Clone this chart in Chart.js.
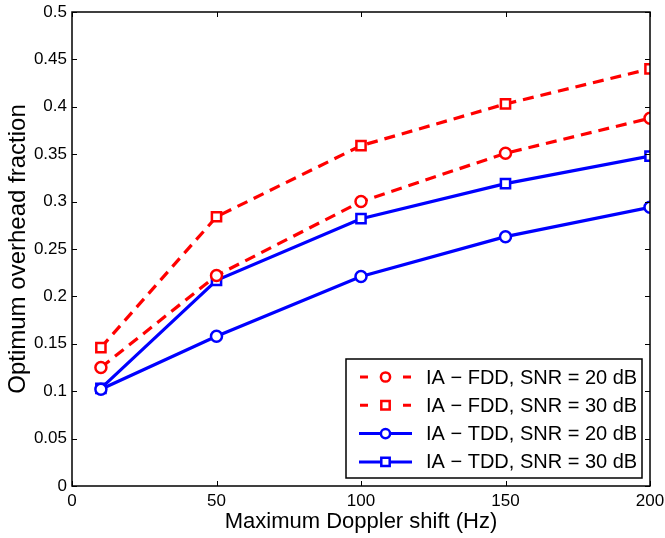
<!DOCTYPE html>
<html>
<head>
<meta charset="utf-8">
<script src="https://cdn.jsdelivr.net/npm/chart.js@4"></script>
<style>
  html, body { margin: 0; padding: 0; background: #fff; }
  #wrap { width: 665px; height: 538px; }
</style>
</head>
<body>
<div id="wrap"><canvas id="chart" width="665" height="538"></canvas></div>
<script>
// ---- data ----
const dopplerHz = [10, 50, 100, 150, 200];
const fdd20 = [0.125, 0.222, 0.300, 0.351, 0.388];
const fdd30 = [0.146, 0.284, 0.359, 0.403, 0.440];
const tdd20 = [0.102, 0.158, 0.221, 0.263, 0.294];
const tdd30 = [0.103, 0.217, 0.282, 0.319, 0.348];
const seriesLabels = [
  'IA \u2212 FDD, SNR = 20 dB',
  'IA \u2212 FDD, SNR = 30 dB',
  'IA \u2212 TDD, SNR = 20 dB',
  'IA \u2212 TDD, SNR = 30 dB'
];
const xTicks = [0, 50, 100, 150, 200];
const yTicks = [0, 0.05, 0.1, 0.15, 0.2, 0.25, 0.3, 0.35, 0.4, 0.45, 0.5];
const yTickLabels = ['0', '0.05', '0.1', '0.15', '0.2', '0.25', '0.3', '0.35', '0.4', '0.45', '0.5'];

const RED = '#ff0000';
const BLUE = '#0000ff';
const FONT = 'Arial, "Liberation Sans", Helvetica, sans-serif';

function makeSet(label, values, color, dashed, marker) {
  return {
    label: label,
    data: dopplerHz.map((x, i) => ({ x: x, y: values[i] })),
    borderColor: color,
    backgroundColor: '#ffffff',
    borderWidth: 3.2,
    borderDash: dashed ? [11, 7] : [],
    pointStyle: marker,
    pointRadius: marker === 'rect' ? 6.5 : 5.5,
    pointBorderWidth: 2.5,
    pointBorderColor: color,
    pointBackgroundColor: '#ffffff',
    tension: 0
  };
}

// MATLAB-style box with inward ticks on all four sides
const boxPlugin = {
  id: 'boxPlugin',
  afterDatasetsDraw(chart) {
    const { ctx, chartArea: a, scales: { x, y } } = chart;
    ctx.save();
    ctx.strokeStyle = '#000';
    ctx.lineWidth = 1;
    const len = 5;
    ctx.beginPath();
    xTicks.forEach(v => {
      const px = Math.round(x.getPixelForValue(v)) + 0.5;
      ctx.moveTo(px, a.bottom); ctx.lineTo(px, a.bottom - len);
      ctx.moveTo(px, a.top); ctx.lineTo(px, a.top + len);
    });
    yTicks.forEach(v => {
      const py = Math.round(y.getPixelForValue(v)) + 0.5;
      ctx.moveTo(a.left, py); ctx.lineTo(a.left + len, py);
      ctx.moveTo(a.right, py); ctx.lineTo(a.right - len, py);
    });
    ctx.stroke();
    ctx.lineWidth = 1.5;
    ctx.strokeRect(a.left, a.top, a.right - a.left, a.bottom - a.top);
    ctx.restore();
  }
};

// legend box drawn inside the plot, lower right
const legendPlugin = {
  id: 'legendPlugin',
  afterDraw(chart) {
    const { ctx } = chart;
    const box = { x: 346, y: 359, w: 296, h: 119 };
    ctx.save();
    ctx.fillStyle = '#fff';
    ctx.fillRect(box.x, box.y, box.w, box.h);
    ctx.strokeStyle = '#000';
    ctx.lineWidth = 1.5;
    ctx.strokeRect(box.x, box.y, box.w, box.h);
    chart.data.datasets.forEach((ds, i) => {
      const cy = box.y + 18 + i * 28.3;
      ctx.strokeStyle = ds.borderColor;
      ctx.lineWidth = 3;
      ctx.beginPath();
      if (ds.borderDash.length) {
        ctx.moveTo(360, cy); ctx.lineTo(368, cy);
        ctx.moveTo(403, cy); ctx.lineTo(411, cy);
      } else {
        ctx.moveTo(359, cy); ctx.lineTo(412, cy);
      }
      ctx.stroke();
      ctx.fillStyle = '#ffffff';
      ctx.lineWidth = 2.5;
      ctx.beginPath();
      if (ds.pointStyle === 'rect') {
        ctx.rect(385.5 - 4.2, cy - 4.2, 8.4, 8.4);
      } else {
        ctx.arc(385.5, cy, 4.6, 0, Math.PI * 2);
      }
      ctx.fill();
      ctx.stroke();
      ctx.fillStyle = '#000';
      ctx.font = '20px ' + FONT;
      ctx.textBaseline = 'middle';
      ctx.textAlign = 'left';
      ctx.fillText(ds.label, 426, cy + 1);
    });
    ctx.restore();
  }
};

new Chart(document.getElementById('chart').getContext('2d'), {
  type: 'line',
  data: {
    datasets: [
      makeSet(seriesLabels[0], fdd20, RED, true, 'circle'),
      makeSet(seriesLabels[1], fdd30, RED, true, 'rect'),
      makeSet(seriesLabels[2], tdd20, BLUE, false, 'circle'),
      makeSet(seriesLabels[3], tdd30, BLUE, false, 'rect')
    ]
  },
  options: {
    responsive: false,
    animation: false,
    layout: { padding: { top: 12, right: 15, left: 0, bottom: 0 } },
    plugins: { legend: { display: false }, tooltip: { enabled: false } },
    scales: {
      x: {
        type: 'linear',
        min: 0, max: 200,
        afterBuildTicks: s => { s.ticks = xTicks.map(v => ({ value: v })); },
        afterFit: s => { s.height = 52; s.paddingLeft = 0; s.paddingRight = 0; },
        grid: { display: false, drawTicks: false },
        border: { display: false },
        ticks: { color: '#000', font: { family: FONT, size: 17 }, padding: 5, maxRotation: 0 },
        title: {
          display: true,
          text: 'Maximum Doppler shift (Hz)',
          color: '#000',
          font: { family: FONT, size: 22 },
          padding: { top: 0, bottom: 3 }
        }
      },
      y: {
        type: 'linear',
        min: 0, max: 0.5,
        afterBuildTicks: s => { s.ticks = yTicks.map(v => ({ value: v })); },
        afterFit: s => { s.width = 72; s.paddingTop = 0; s.paddingBottom = 0; },
        grid: { display: false, drawTicks: false },
        border: { display: false },
        ticks: {
          color: '#000',
          font: { family: FONT, size: 17 },
          padding: 5,
          callback: (v, i) => yTickLabels[i]
        },
        title: {
          display: true,
          text: 'Optimum overhead fraction',
          color: '#000',
          font: { family: FONT, size: 24 },
          padding: { top: 4, bottom: 0 }
        }
      }
    }
  },
  plugins: [boxPlugin, legendPlugin]
});
</script>
</body>
</html>
